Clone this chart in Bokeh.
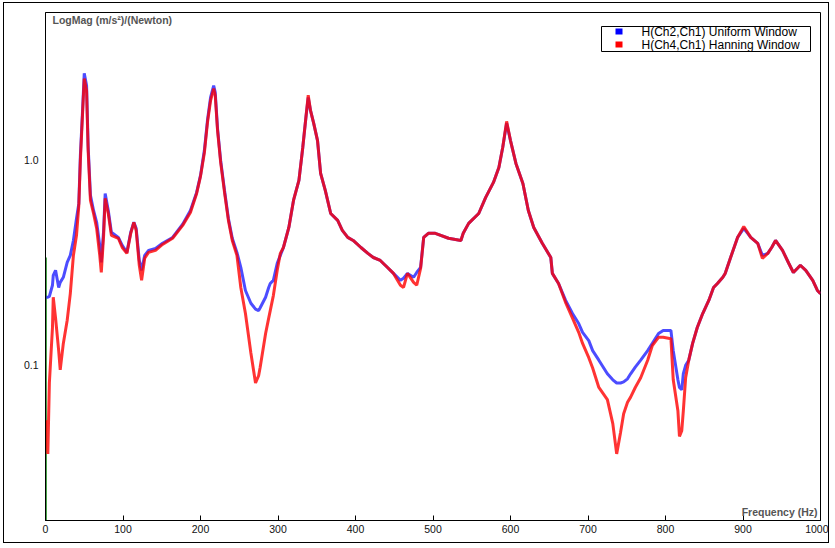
from bokeh.plotting import figure
from bokeh.models import (FixedTicker, PrintfTickFormatter, Label, BoxAnnotation, Range1d)
from bokeh.embed import file_html
from bokeh.resources import INLINE

# ---- data (frequency in Hz, magnitude in (m/s^2)/N) ----
freq = [1, 3, 5, 9, 10, 13, 17, 19, 23, 28, 32, 36, 40, 43, 45, 48, 50, 53, 55, 58,
        62, 66, 70, 72, 75, 77, 81, 85, 94, 99, 105, 110, 114, 117, 121, 124, 128, 133, 142, 151,
        164, 177, 187, 195, 200, 205, 209, 213, 217, 219, 222, 226, 231, 236, 241, 247, 252, 258, 265, 271,
        275, 277, 284, 288, 290, 294, 299, 303, 307, 314, 320, 327, 332, 336, 339, 342, 346, 351, 355, 361,
        368, 377, 383, 390, 397, 407, 416, 423, 432, 441, 449, 458, 462, 467, 475, 479, 484, 488, 494, 503,
        520, 536, 539, 546, 559, 568, 578, 585, 590, 595, 600, 607, 616, 623, 630, 641, 652, 654, 662, 671,
        680, 688, 693, 701, 706, 714, 725, 732, 737, 742, 746, 751, 755, 761, 768, 777, 783, 791, 797, 807,
        810, 816, 818, 821, 823, 826, 830, 835, 841, 848, 856, 862, 867, 874, 877, 884, 893, 901, 910, 919,
        925, 932, 937, 942, 951, 959, 965, 970, 974, 981, 990, 996, 1000]

uniform = [0.215, 0.215, 0.217, 0.246, 0.275, 0.291, 0.240, 0.254, 0.269, 0.318, 0.344, 0.407, 0.521, 0.617, 1.06, 1.81, 2.66, 2.32, 1.18, 0.675,
           0.570, 0.499, 0.385, 0.318, 0.456, 0.690, 0.570, 0.446, 0.421, 0.385, 0.356, 0.446, 0.499, 0.466, 0.325, 0.291, 0.344, 0.364, 0.372, 0.394,
           0.421, 0.488, 0.570, 0.698, 0.845, 1.12, 1.57, 2.03, 2.32, 2.15, 1.43, 1.00, 0.714, 0.521, 0.417, 0.356, 0.301, 0.232, 0.201, 0.188,
           0.185, 0.191, 0.215, 0.240, 0.251, 0.260, 0.315, 0.344, 0.376, 0.471, 0.638, 0.799, 1.16, 1.62, 2.03, 1.75, 1.52, 1.25, 0.864, 0.714,
           0.551, 0.510, 0.456, 0.421, 0.407, 0.376, 0.352, 0.336, 0.325, 0.301, 0.281, 0.260, 0.266, 0.281, 0.269, 0.284, 0.301, 0.421, 0.441, 0.441,
           0.417, 0.407, 0.441, 0.493, 0.551, 0.660, 0.781, 0.924, 1.16, 1.52, 1.25, 0.967, 0.772, 0.570, 0.471, 0.394, 0.336, 0.281, 0.251, 0.208,
           0.179, 0.160, 0.145, 0.132, 0.118, 0.106, 0.091, 0.085, 0.082, 0.082, 0.083, 0.086, 0.091, 0.098, 0.106, 0.118, 0.128, 0.143, 0.148, 0.148,
           0.118, 0.085, 0.078, 0.076, 0.091, 0.100, 0.106, 0.128, 0.153, 0.179, 0.208, 0.240, 0.251, 0.269, 0.281, 0.336, 0.421, 0.466, 0.421, 0.394,
           0.344, 0.352, 0.376, 0.407, 0.364, 0.315, 0.284, 0.297, 0.308, 0.291, 0.260, 0.232, 0.224]

hanning = [0.054, 0.037, 0.082, 0.153, 0.215, 0.170, 0.118, 0.095, 0.128, 0.166, 0.224, 0.344, 0.431, 0.603, 1.00, 1.75, 2.51, 2.19, 1.12, 0.638,
           0.551, 0.466, 0.344, 0.284, 0.431, 0.653, 0.551, 0.431, 0.417, 0.376, 0.352, 0.441, 0.499, 0.456, 0.308, 0.260, 0.333, 0.356, 0.364, 0.389,
           0.417, 0.482, 0.557, 0.690, 0.836, 1.09, 1.53, 1.96, 2.24, 2.08, 1.40, 0.978, 0.698, 0.510, 0.407, 0.344, 0.240, 0.179, 0.115, 0.082,
           0.089, 0.098, 0.143, 0.170, 0.185, 0.219, 0.291, 0.352, 0.376, 0.471, 0.638, 0.799, 1.16, 1.62, 2.08, 1.75, 1.52, 1.25, 0.864, 0.714,
           0.551, 0.510, 0.456, 0.421, 0.407, 0.376, 0.352, 0.336, 0.325, 0.301, 0.281, 0.246, 0.240, 0.281, 0.254, 0.246, 0.297, 0.421, 0.441, 0.441,
           0.417, 0.407, 0.441, 0.493, 0.551, 0.660, 0.781, 0.924, 1.16, 1.55, 1.25, 0.967, 0.772, 0.570, 0.471, 0.394, 0.336, 0.281, 0.251, 0.203,
           0.170, 0.145, 0.128, 0.109, 0.097, 0.078, 0.068, 0.052, 0.037, 0.047, 0.058, 0.066, 0.070, 0.078, 0.087, 0.106, 0.125, 0.137, 0.137, 0.135,
           0.085, 0.060, 0.045, 0.048, 0.060, 0.087, 0.106, 0.128, 0.153, 0.179, 0.208, 0.240, 0.251, 0.269, 0.281, 0.336, 0.421, 0.476, 0.421, 0.394,
           0.333, 0.352, 0.376, 0.407, 0.364, 0.315, 0.284, 0.297, 0.308, 0.291, 0.260, 0.232, 0.224]

extra_freq = [0.6, 0.6]
extra_vals = [0.336, 0.0175]

x_ticks = [0, 100, 200, 300, 400, 500, 600, 700, 800, 900, 1000]
y_ticks = [0.1, 1.0]
series_labels = ["H(Ch2,Ch1) Uniform Window", "H(Ch4,Ch1) Hanning Window"]
series_colors = ["#0000FF", "#FF0000"]

p = figure(width=826, height=541, y_axis_type="log",
           x_range=Range1d(0, 1000), y_range=Range1d(0.0175, 5.27),
           output_backend="svg", toolbar_location=None,
           min_border_left=41, min_border_right=10, min_border_top=9, min_border_bottom=24,
           background_fill_color="white", border_fill_color="white",
           outline_line_color="black", outline_line_width=1,
           styles={"margin-left": "3px", "margin-top": "2px", "border": "1px solid black"})

p.xgrid.visible = False
p.ygrid.visible = False

p.xaxis.ticker = FixedTicker(ticks=x_ticks)
p.yaxis.ticker = FixedTicker(ticks=y_ticks, minor_ticks=[])
p.yaxis.formatter = PrintfTickFormatter(format="%.1f")
for ax in (p.xaxis[0], p.yaxis[0]):
    ax.axis_line_color = "black"
    ax.major_label_text_font = "Liberation Sans"
    ax.major_label_text_font_size = "10.5px"
    ax.major_label_text_color = "#111111"
    ax.minor_tick_line_color = None
    ax.minor_tick_in = 0
    ax.minor_tick_out = 0
p.xaxis.major_tick_in = 5
p.xaxis.major_tick_out = 0
p.xaxis.major_tick_line_color = "black"
p.xaxis.major_label_standoff = 4
p.yaxis.major_tick_line_color = None
p.yaxis.major_tick_in = 0
p.yaxis.major_tick_out = 0
p.yaxis.major_label_standoff = 7

p.line(extra_freq, extra_vals, line_color="green", line_width=1.5)
p.line(freq, uniform, line_color=series_colors[0], line_width=3, line_alpha=0.7)
p.line(freq, hanning, line_color=series_colors[1], line_width=3, line_alpha=0.8)

# axis titles inside the frame
p.add_layout(Label(x=7, y=507, x_units="screen", y_units="screen",
                   text="LogMag (m/s\u00b2)/(Newton)", text_font="Liberation Sans",
                   text_font_style="bold", text_font_size="10.5px", text_color="#555555",
                   text_baseline="top", text_align="left"))
p.add_layout(Label(x=772, y=3, x_units="screen", y_units="screen",
                   text="Frequency (Hz)", text_font="Liberation Sans",
                   text_font_style="bold", text_font_size="10.5px", text_color="#555555",
                   text_baseline="bottom", text_align="right"))

# legend (drawn manually)
p.add_layout(BoxAnnotation(left=556, right=765, top=494, bottom=469,
                           left_units="screen", right_units="screen",
                           top_units="screen", bottom_units="screen",
                           fill_color="white", fill_alpha=1.0,
                           line_color="black", line_width=1, line_alpha=1.0))
row_y = [489, 476]
for lbl, col, yy in zip(series_labels, series_colors, row_y):
    p.add_layout(BoxAnnotation(left=570, right=577, top=yy + 3, bottom=yy - 3,
                               left_units="screen", right_units="screen",
                               top_units="screen", bottom_units="screen",
                               fill_color=col, fill_alpha=1.0, line_color=None))
    p.add_layout(Label(x=596, y=yy, x_units="screen", y_units="screen",
                       text=lbl, text_font="Liberation Sans", text_font_size="12px",
                       text_color="black", text_baseline="middle", text_align="left"))

open("out.html", "w").write(file_html(p, INLINE))
